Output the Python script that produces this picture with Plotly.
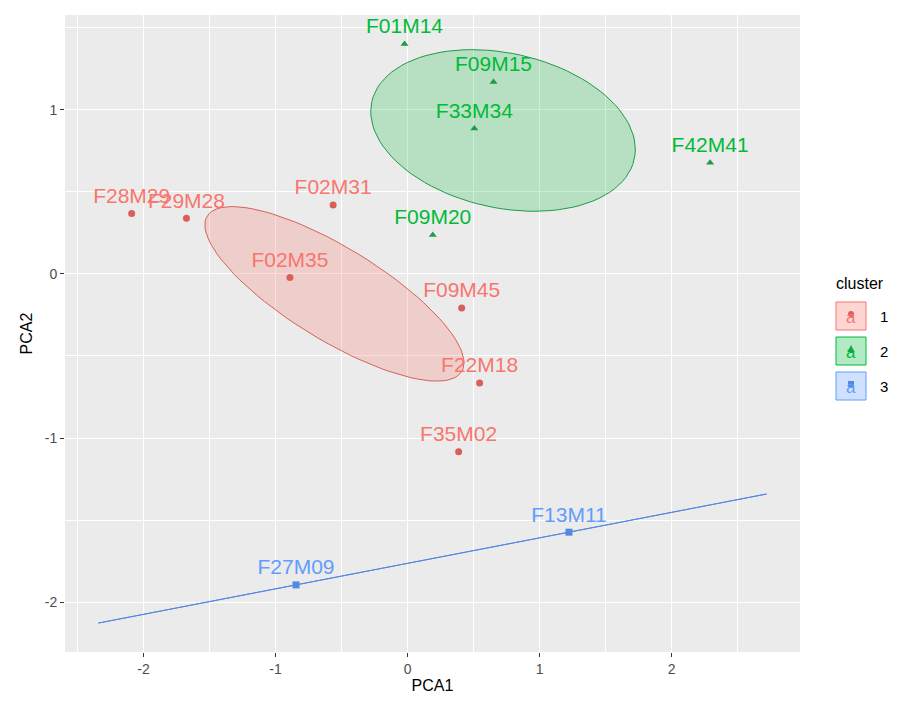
import numpy as np
import plotly.graph_objects as go

# ---- data ----
cluster_ids = ["1", "2", "3"]
c1_labels = ["F28M29", "F29M28", "F02M31", "F02M35", "F09M45", "F22M18", "F35M02"]
c1_x = [-2.09, -1.675, -0.564, -0.891, 0.41, 0.546, 0.387]
c1_y = [0.368, 0.338, 0.419, -0.022, -0.208, -0.664, -1.083]

c2_labels = ["F01M14", "F09M15", "F33M34", "F42M41", "F09M20"]
c2_x = [-0.023, 0.651, 0.506, 2.292, 0.191]
c2_y = [1.40, 1.168, 0.885, 0.676, 0.237]

c3_labels = ["F27M09", "F13M11"]
c3_x = [-0.845, 1.223]
c3_y = [-1.894, -1.573]

x_ticks = [-2, -1, 0, 1, 2]
x_ticktext = ["-2", "-1", "0", "1", "2"]
y_ticks = [-2, -1, 0, 1]
y_ticktext = ["-2", "-1", "0", "1"]
CHI2_95_2DF = 5.991  # confidence-ellipse radius^2

colors = ["#F8766D", "#00BA38", "#619CFF"]
line_colors = ["#D9605A", "#1E9A48", "#5588E0"]
fills = ["rgba(248,118,109,0.25)", "rgba(0,186,56,0.22)", "rgba(97,156,255,0.25)"]
legend_fills = ["rgba(248,118,109,0.3)", "rgba(0,186,56,0.3)", "rgba(97,156,255,0.3)"]
symbols = ["circle", "triangle-up", "square"]
FONT = "Liberation Sans, Arial"


def conf_ellipse(xs, ys, npts=101):
    xs, ys = np.asarray(xs, float), np.asarray(ys, float)
    n = len(xs)
    cov = np.cov(xs, ys) / n
    vals, vecs = np.linalg.eigh(cov)
    vals = np.clip(vals, 0, None)
    t = np.linspace(0, 2 * np.pi, npts)
    circ = np.stack([np.cos(t), np.sin(t)])
    pts = vecs @ (np.sqrt(vals)[:, None] * circ) * np.sqrt(CHI2_95_2DF)
    return xs.mean() + pts[0], ys.mean() + pts[1]


clusters = [(c1_labels, c1_x, c1_y), (c2_labels, c2_x, c2_y), (c3_labels, c3_x, c3_y)]

fig = go.Figure()
all_x, all_y = [], []
ells = []
for i, (lab, xs, ys) in enumerate(clusters):
    ex, ey = conf_ellipse(xs, ys)
    ells.append((ex, ey))
    all_x += list(ex) + list(xs)
    all_y += list(ey) + list(ys)

for i, (ex, ey) in enumerate(ells):
    fig.add_trace(go.Scatter(x=ex, y=ey, mode="lines", fill="toself",
                             fillcolor=fills[i], line=dict(color=line_colors[i], width=1),
                             showlegend=False, hoverinfo="skip"))

for i, (lab, xs, ys) in enumerate(clusters):
    fig.add_trace(go.Scatter(x=xs, y=ys, mode="markers+text", text=lab,
                             textposition="top center",
                             textfont=dict(family=FONT, size=21, color=colors[i]),
                             marker=dict(symbol=symbols[i], size=7, color=line_colors[i]),
                             showlegend=False))

# ggplot-like 5% expansion
xmin, xmax = min(all_x), max(all_x)
ymin, ymax = min(all_y), max(all_y)
dx, dy = (xmax - xmin) * 0.05, (ymax - ymin) * 0.05

axis_common = dict(showline=False, zeroline=False, showgrid=True, gridcolor="white",
                   gridwidth=1.3, ticks="outside", ticklen=4, tickcolor="#333333",
                   tickwidth=1, automargin=False,
                   tickfont=dict(family=FONT, size=14, color="#4D4D4D"),
                   minor=dict(tick0=0.5, dtick=1, showgrid=True, gridcolor="white",
                              gridwidth=0.6, ticks=""))

fig.update_xaxes(range=[xmin - dx, xmax + dx], tickvals=x_ticks, ticktext=x_ticktext,
                 title=dict(text="PCA1", font=dict(family=FONT, size=16, color="black"), standoff=4),
                 **axis_common)
fig.update_yaxes(range=[ymin - dy, ymax + dy], tickvals=y_ticks, ticktext=y_ticktext,
                 title=dict(text="PCA2", font=dict(family=FONT, size=16, color="black"), standoff=8),
                 **axis_common)

# manual legend (pixel layout converted to paper coordinates)
W, H = 899, 704
ml, mr, mt, mb = 65, 99, 15, 52
pw, ph = W - ml - mr, H - mt - mb


def px(xp):
    return (xp - ml) / pw


def py(yp):
    return 1 - (yp - mt) / ph


def key_glyph(kind, cx, cy, r, color):
    base = dict(xref="paper", yref="paper", fillcolor=color, line=dict(width=0))
    if kind == "circle":
        return dict(type="circle", x0=px(cx - r), x1=px(cx + r), y0=py(cy + r), y1=py(cy - r), **base)
    if kind == "square":
        return dict(type="rect", x0=px(cx - r), x1=px(cx + r), y0=py(cy + r), y1=py(cy - r), **base)
    path = "M {} {} L {} {} L {} {} Z".format(px(cx), py(cy - r - 1), px(cx - r - 0.5), py(cy + r),
                                             px(cx + r + 0.5), py(cy + r))
    return dict(type="path", path=path, **base)


shapes = []
annotations = [dict(x=px(834), y=py(283), xref="paper", yref="paper", text="cluster",
                    showarrow=False, xanchor="left", yanchor="middle",
                    font=dict(family=FONT, size=16, color="black"))]
for i, cid in enumerate(cluster_ids):
    cy = 316 + 35 * i
    shapes.append(dict(type="rect", xref="paper", yref="paper",
                       x0=px(836), x1=px(866), y0=py(cy - 14), y1=py(cy + 14),
                       fillcolor=legend_fills[i], line=dict(color=colors[i], width=1)))
    annotations.append(dict(x=px(851), y=py(cy + 1), xref="paper", yref="paper", text="a",
                            showarrow=False, xanchor="center", yanchor="middle",
                            font=dict(family=FONT, size=17, color=colors[i])))
    shapes.append(key_glyph(symbols[i].split("-")[0], 851, cy - 2, 3, line_colors[i]))
    annotations.append(dict(x=px(884), y=py(cy), xref="paper", yref="paper", text=cid,
                            showarrow=False, xanchor="center", yanchor="middle",
                            font=dict(family=FONT, size=15, color="black")))

fig.update_layout(width=W, height=H, margin=dict(l=ml, r=mr, t=mt, b=mb, autoexpand=False),
                  plot_bgcolor="#EBEBEB", paper_bgcolor="white",
                  shapes=shapes, annotations=annotations, showlegend=False)

fig.write_html("out.html", config={"displayModeBar": False},
               post_script="document.body.style.margin='0';document.body.style.overflow='hidden';")
